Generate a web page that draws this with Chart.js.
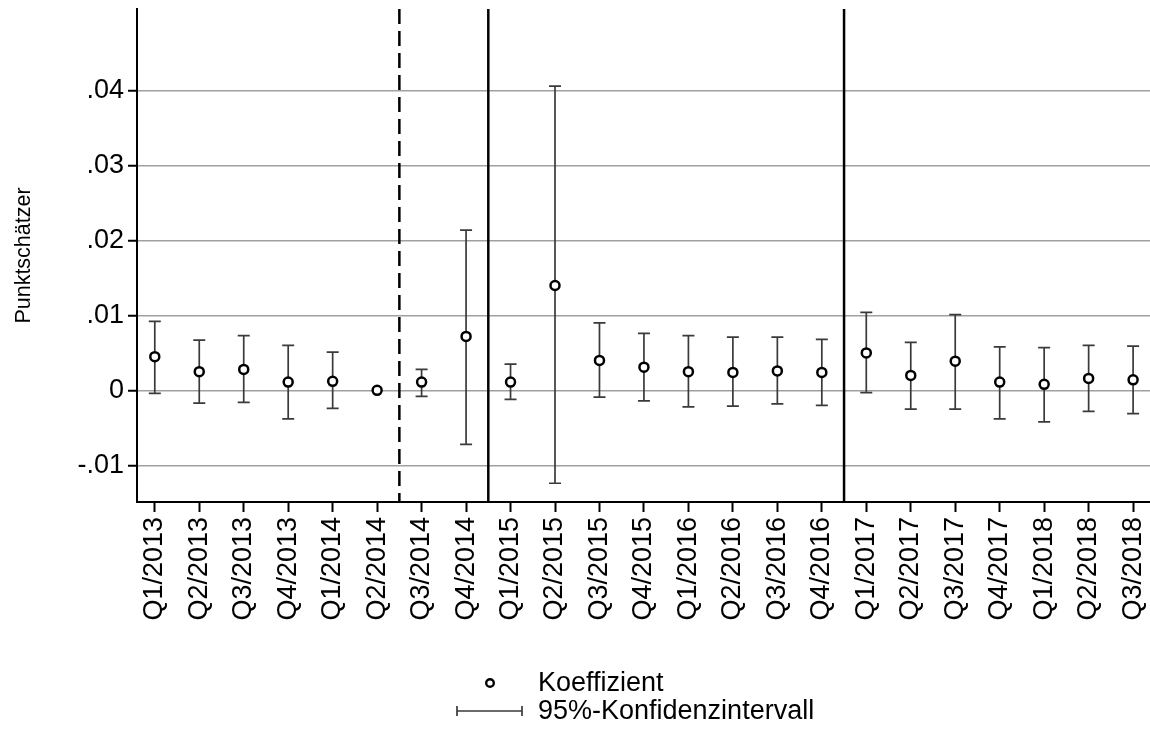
<!DOCTYPE html>
<html>
<head>
<meta charset="utf-8">
<script src="https://cdn.jsdelivr.net/npm/chart.js@4"></script>
<style>
  html, body { margin: 0; padding: 0; background: #fff; }
</style>
</head>
<body>
<canvas id="chart" width="1150" height="742"></canvas>
<script>
// ---------------------------------------- | Data

const quarters = [
  "Q1/2013", "Q2/2013", "Q3/2013", "Q4/2013", "Q1/2014", "Q2/2014", "Q3/2014", "Q4/2014",
  "Q1/2015", "Q2/2015", "Q3/2015", "Q4/2015", "Q1/2016", "Q2/2016", "Q3/2016", "Q4/2016",
  "Q1/2017", "Q2/2017", "Q3/2017", "Q4/2017", "Q1/2018", "Q2/2018", "Q3/2018"
]

const coef = [
  0.0045, 0.0025, 0.0028, 0.0011, 0.0012, 0, 0.0011, 0.0072,
  0.0011, 0.0140, 0.0040, 0.0031, 0.0025, 0.0024, 0.0026, 0.0024,
  0.0050, 0.0020, 0.0039, 0.0011, 0.0008, 0.0016, 0.0014
]

const ciLow = [
  -0.0004, -0.0017, -0.0016, -0.0038, -0.0024, null, -0.0008, -0.0072,
  -0.0012, -0.0124, -0.0009, -0.0014, -0.0022, -0.0021, -0.0018, -0.0020,
  -0.0003, -0.0025, -0.0025, -0.0038, -0.0042, -0.0028, -0.0031
]

const ciHigh = [
  0.0092, 0.0067, 0.0073, 0.0060, 0.0051, null, 0.0028, 0.0214,
  0.0035, 0.0406, 0.0090, 0.0076, 0.0073, 0.0071, 0.0071, 0.0068,
  0.0104, 0.0064, 0.0101, 0.0058, 0.0057, 0.0060, 0.0059
]

const yTicks = [-0.01, 0, 0.01, 0.02, 0.03, 0.04]
const breaksDashed = [5.5]
const breaksSolid = [7.5, 15.5]

const legendLabels = ["Koeffizient", "95%-Konfidenzintervall"]

const FONT = "'Liberation Sans', Arial, Helvetica, sans-serif"

// ---------------------------------------- | Plugins

const errorBars = {
  id: "errorBars",
  beforeDatasetsDraw(chart) {
    const { ctx, scales: { x, y } } = chart
    ctx.save()
    ctx.strokeStyle = "#3a3a3a"
    ctx.lineWidth = 1.7
    ciLow.forEach((lo, i) => {
      const hi = ciHigh[i]
      if (lo == null || hi == null) return
      const px = x.getPixelForValue(i)
      const top = y.getPixelForValue(hi)
      const bot = y.getPixelForValue(lo)
      ctx.beginPath()
      ctx.moveTo(px, top); ctx.lineTo(px, bot)
      ctx.moveTo(px - 6, top); ctx.lineTo(px + 6, top)
      ctx.moveTo(px - 6, bot); ctx.lineTo(px + 6, bot)
      ctx.stroke()
    })
    ctx.restore()
  }
}

const periodLines = {
  id: "periodLines",
  beforeDatasetsDraw(chart) {
    const { ctx, chartArea, scales: { x } } = chart
    const draw = (v, dash) => {
      const px = x.getPixelForValue(v)
      ctx.save()
      ctx.strokeStyle = "#000"
      ctx.lineWidth = 2.5
      ctx.setLineDash(dash)
      ctx.beginPath()
      ctx.moveTo(px, chartArea.top)
      ctx.lineTo(px, chartArea.bottom)
      ctx.stroke()
      ctx.restore()
    }
    breaksDashed.forEach(v => draw(v, [15, 7]))
    breaksSolid.forEach(v => draw(v, []))
  }
}

const legendBox = {
  id: "legendBox",
  afterDraw(chart) {
    const { ctx } = chart
    ctx.save()
    ctx.font = "27px " + FONT
    ctx.textBaseline = "middle"
    ctx.textAlign = "left"

    // marker
    ctx.beginPath()
    ctx.arc(490, 683, 3.8, 0, Math.PI * 2)
    ctx.fillStyle = "#fff"
    ctx.fill()
    ctx.lineWidth = 2.4
    ctx.strokeStyle = "#000"
    ctx.stroke()
    ctx.fillStyle = "#000"
    ctx.fillText(legendLabels[0], 538, 684)

    // interval
    ctx.strokeStyle = "#3a3a3a"
    ctx.lineWidth = 1.7
    ctx.beginPath()
    ctx.moveTo(457, 711); ctx.lineTo(522, 711)
    ctx.moveTo(457, 706); ctx.lineTo(457, 716)
    ctx.moveTo(522, 706); ctx.lineTo(522, 716)
    ctx.stroke()
    ctx.fillText(legendLabels[1], 538, 712)
    ctx.restore()
  }
}

// ---------------------------------------- | Chart

const chartCtx = document.getElementById("chart").getContext("2d")

const chart = new Chart(chartCtx, {
  type: "scatter",
  data: {
    datasets: [
      {
        label: legendLabels[0],
        data: coef.map((v, i) => ({ x: i, y: v })),
        pointRadius: 4.5,
        pointBorderWidth: 2.5,
        pointBorderColor: "#000",
        pointBackgroundColor: "#fff",
        showLine: false
      }
    ]
  },
  options: {
    responsive: false,
    animation: false,
    layout: { autoPadding: false, padding: { top: 9, left: 0, right: 0, bottom: 0 } },
    plugins: {
      legend: { display: false },
      tooltip: { enabled: false }
    },
    scales: {
      x: {
        type: "linear",
        min: -0.4,
        max: 22.38,
        afterBuildTicks: scale => { scale.ticks = quarters.map((q, i) => ({ value: i })) },
        afterFit: scale => {
          scale.height = 240
          scale.paddingLeft = 0
          scale.paddingRight = 0
        },
        ticks: {
          autoSkip: false,
          minRotation: 90,
          maxRotation: 90,
          padding: 5,
          color: "#000",
          font: { family: FONT, size: 27, lineHeight: 0.3 },
          callback: (v, i) => quarters[i]
        },
        grid: { drawOnChartArea: false, tickLength: 10, tickColor: "#000", tickWidth: 2 },
        border: { color: "#000", width: 2 }
      },
      y: {
        min: -0.0149,
        max: 0.0509,
        afterBuildTicks: scale => { scale.ticks = yTicks.map(v => ({ value: v })) },
        afterFit: scale => {
          scale.width = 137
          scale.paddingTop = 0
          scale.paddingBottom = 0
        },
        ticks: {
          padding: 4,
          color: "#000",
          font: { family: FONT, size: 27, lineHeight: 0.3 },
          callback: v => v === 0 ? "0" : v.toFixed(2).replace("0.", ".")
        },
        grid: { color: "#a0a0a0", lineWidth: 1.5, tickLength: 9, tickColor: "#000", tickWidth: 2 },
        border: { color: "#000", width: 2 },
        title: {
          display: true,
          text: "Punktschätzer",
          color: "#000",
          font: { family: FONT, size: 21.5 },
          padding: { top: 11, bottom: 0 }
        }
      }
    }
  },
  plugins: [errorBars, periodLines, legendBox]
})
</script>
</body>
</html>
